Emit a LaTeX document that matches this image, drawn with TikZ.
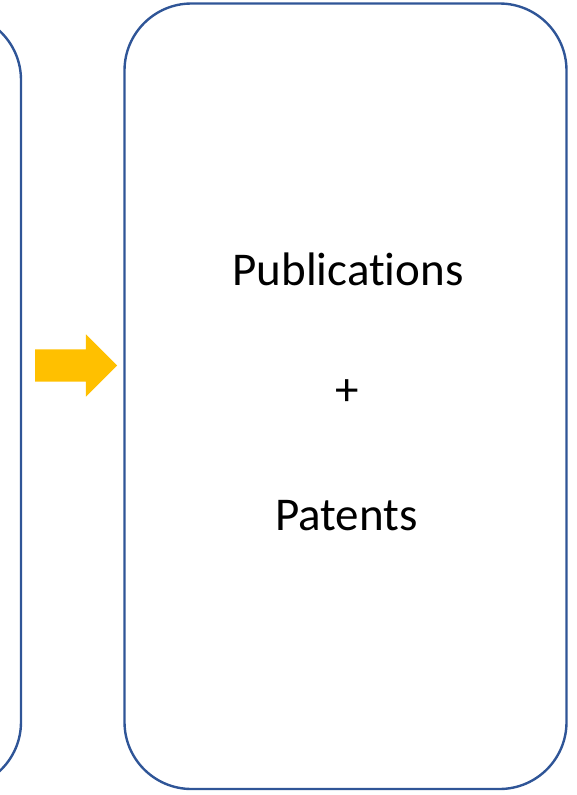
\documentclass[tikz,border=0pt]{standalone}
\usepackage{fontspec}
\setmainfont{Carlito}[RawFeature=-liga]
\usetikzlibrary{shapes}
\usetikzlibrary{shapes.arrows}
\usetikzlibrary{arrows}

\definecolor{boxblue}{HTML}{2F5597}
\definecolor{gold}{HTML}{FFC000}

\begin{document}
\begin{tikzpicture}[x=1pt,y=-1pt]
				\tikzstyle{panel}=[rectangle,draw=boxblue,line width=2.4pt,rounded corners=67pt,inner sep=0pt]
				\tikzstyle{label}=[inner sep=0pt,anchor=base,font=\fontsize{47}{56}\selectfont]
				\tikzstyle{bigarrow}=[single arrow,fill=gold,inner sep=0pt,text height=16pt,text depth=16pt,single arrow head extend=15pt,minimum height=82pt]
				
				\useasboundingbox (0,0) rectangle (577,795);
				
				% box on the left, mostly off the page
				\node[panel,minimum width=321pt,minimum height=776pt] (sources) at (-139.5,401) {};
				% box on the right
				\node[panel,minimum width=442pt,minimum height=785.5pt] (output) at (345.5,396.25) {};
				
				\node[bigarrow] (step) at (68,365.5) {};
				
				\node[label] (pubs) at (348,285) {Publications};
				\node[label] (plus) at (347.5,405) {+};
				\node[label] (pats) at (346.5,530) {Patents};
				
				;\end{tikzpicture}
\end{document}
